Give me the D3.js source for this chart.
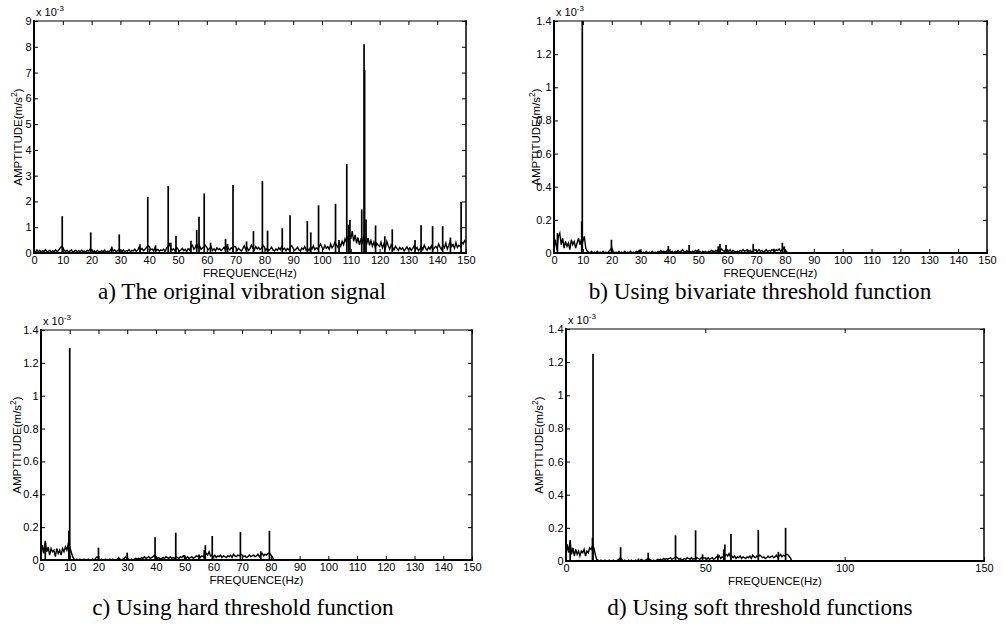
<!DOCTYPE html>
<html>
<head>
<meta charset="utf-8">
<script src="https://cdnjs.cloudflare.com/ajax/libs/d3/7.8.5/d3.min.js"></script>
<style>
  body { margin: 0; background: #fff; }
  svg text { fill: #000; }
  .tick text { font-family: "Liberation Sans", Arial, sans-serif; font-size: 11px; }
  .axis-label { font-family: "Liberation Sans", Arial, sans-serif; font-size: 11.5px; }
  .caption { font-family: "Liberation Serif", "Times New Roman", serif; font-size: 23.2px; }
</style>
</head>
<body>
<div id="wrapper"></div>
<script>
// tick values
const freqTicksFine = [0, 10, 20, 30, 40, 50, 60, 70, 80, 90, 100, 110, 120, 130, 140, 150];
const freqTicksCoarse = [0, 50, 100, 150];
const ampTicksA = [0, 1, 2, 3, 4, 5, 6, 7, 8, 9];
const ampTicksSmall = [0, 0.2, 0.4, 0.6, 0.8, 1, 1.2, 1.4];

const captions = [
  "a) The original vibration signal",
  "b) Using bivariate threshold function",
  "c) Using hard threshold function",
  "d) Using soft threshold functions"
];

// spectrum floor, one sample every 0.5 Hz (x 10^-3 m/s^2)
const noiseStep = 0.5;

const noiseA = [
  0.08,0.03,0.12,0.05,0.10,0.02,0.09,0.06,0.13,0.04,0.07,0.11,0.03,0.09,0.05,0.12,0.06,0.10,0.18,0.25,
  0.22,0.10,0.06,0.11,0.04,0.08,0.12,0.03,0.07,0.10,0.05,0.09,0.04,0.11,0.06,0.08,0.03,0.10,0.07,0.15,
  0.12,0.05,0.08,0.03,0.10,0.06,0.04,0.09,0.05,0.11,0.03,0.07,0.05,0.10,0.18,0.08,0.12,0.05,0.09,0.14,
  0.10,0.06,0.12,0.04,0.09,0.07,0.13,0.05,0.10,0.08,0.15,0.06,0.11,0.22,0.12,0.18,0.09,0.14,0.20,0.28,
  0.25,0.12,0.16,0.08,0.20,0.10,0.14,0.07,0.12,0.09,0.15,0.06,0.18,0.25,0.35,0.20,0.12,0.16,0.08,0.22,
  0.15,0.07,0.12,0.18,0.09,0.14,0.06,0.17,0.11,0.25,0.30,0.15,0.22,0.35,0.20,0.28,0.14,0.19,0.24,0.30,
  0.22,0.12,0.18,0.25,0.10,0.16,0.08,0.20,0.13,0.17,0.09,0.15,0.22,0.11,0.28,0.18,0.12,0.20,0.15,0.26,
  0.24,0.10,0.18,0.13,0.08,0.16,0.28,0.14,0.21,0.10,0.17,0.30,0.19,0.12,0.25,0.16,0.22,0.13,0.20,0.30,
  0.22,0.11,0.18,0.09,0.15,0.22,0.12,0.08,0.16,0.10,0.20,0.13,0.25,0.14,0.18,0.09,0.17,0.12,0.22,0.28,
  0.18,0.10,0.15,0.22,0.12,0.08,0.19,0.14,0.25,0.11,0.17,0.09,0.22,0.15,0.28,0.13,0.20,0.16,0.25,0.35,
  0.22,0.15,0.30,0.18,0.25,0.14,0.35,0.20,0.28,0.42,0.30,0.22,0.38,0.26,0.45,0.32,0.55,0.40,0.62,0.75,
  0.55,0.85,0.45,0.70,0.38,0.60,0.32,0.52,0.40,0.65,0.48,0.35,0.58,0.30,0.48,0.26,0.42,0.22,0.38,0.30,
  0.25,0.42,0.20,0.35,0.18,0.45,0.28,0.15,0.32,0.22,0.12,0.26,0.18,0.10,0.22,0.14,0.20,0.08,0.16,0.24,
  0.12,0.20,0.10,0.18,0.28,0.14,0.22,0.09,0.16,0.25,0.13,0.30,0.18,0.11,0.22,0.15,0.28,0.12,0.20,0.26,
  0.18,0.35,0.22,0.14,0.30,0.20,0.38,0.16,0.28,0.45,0.25,0.32,0.18,0.40,0.22,0.30,0.26,0.42,0.35,0.48,
  0.40
];

const noiseB = [
  0.03,0.08,0.02,0.10,0.12,0.05,0.09,0.03,0.07,0.04,0.06,0.02,0.08,0.05,0.07,0.03,0.06,0.09,0.05,0.08,
  0.07,0.10,0.03,0.01,0.005,0,0.01,0,0.005,0,0.01,0,0.005,0,0.01,0,0.005,0,0.01,0.02,
  0.03,0.01,0,0.005,0,0.01,0,0.005,0,0.01,0,0.005,0,0.01,0,0.005,0,0.01,0.005,0.015,
  0.01,0,0.005,0,0.01,0,0.005,0,0.01,0,0.005,0,0.01,0.005,0.015,0.005,0.01,0.005,0.01,0.02,
  0.015,0.005,0.01,0,0.01,0.005,0.015,0.005,0.01,0.02,0.01,0.005,0.015,0.005,0.01,0.005,0.01,0.005,0.015,0.01,
  0.005,0.01,0,0.01,0.005,0.01,0,0.01,0.005,0.015,0.01,0.005,0.015,0.01,0.02,0.01,0.025,0.015,0.01,0.02,
  0.015,0.01,0.02,0.005,0.015,0.01,0.005,0.01,0.005,0.015,0.01,0.02,0.01,0.015,0.02,0.01,0.015,0.005,0.01,0.02,
  0.015,0.01,0.02,0.01,0.015,0.005,0.01,0.02,0.01,0.015,0.01,0.02,0.015,0.01,0.02,0.015,0.025,0.01,0.02,0.03,
  0.02,0.01,0
];

const noiseC = [
  0.02,0.09,0.04,0.11,0.05,0.08,0.03,0.07,0.05,0.06,0.02,0.07,0.04,0.06,0.03,0.07,0.05,0.08,0.06,0.10,
  0.08,0.05,0.02,0.005,0,0.005,0,0.005,0,0,0.005,0,0,0.005,0,0,0.005,0,0.01,0.02,
  0.01,0,0.005,0,0,0.005,0,0,0.005,0,0.005,0,0,0.005,0.01,0.005,0,0.005,0.01,0.02,
  0.01,0.005,0,0.005,0,0.005,0.01,0.005,0.01,0.005,0.015,0.01,0.02,0.01,0.015,0.02,0.01,0.015,0.02,0.03,
  0.02,0.01,0.015,0.005,0.01,0.015,0.01,0.02,0.015,0.01,0.02,0.01,0.015,0.01,0.02,0.015,0.01,0.02,0.015,0.025,
  0.015,0.01,0.02,0.01,0.015,0.02,0.01,0.015,0.025,0.02,0.03,0.015,0.025,0.02,0.03,0.04,0.03,0.05,0.025,0.03,
  0.02,0.03,0.015,0.025,0.02,0.03,0.015,0.025,0.02,0.015,0.025,0.02,0.03,0.015,0.035,0.025,0.02,0.03,0.025,0.035,
  0.03,0.02,0.025,0.015,0.02,0.03,0.02,0.025,0.03,0.02,0.025,0.035,0.02,0.03,0.04,0.025,0.035,0.03,0.04,0.045,
  0.03,0.02,0
];

const noiseD = [
  0.03,0.10,0.05,0.12,0.04,0.08,0.03,0.07,0.04,0.06,0.03,0.06,0.05,0.07,0.03,0.06,0.05,0.08,0.07,0.09,
  0.08,0.04,0.01,0.005,0,0.005,0,0,0.005,0,0,0.005,0,0,0.005,0,0,0.005,0.01,0.02,
  0.01,0,0.005,0,0,0.005,0,0.005,0,0,0.005,0,0.005,0,0.01,0.005,0,0.005,0.01,0.015,
  0.01,0.005,0,0.005,0,0.005,0.01,0.005,0.01,0.005,0.015,0.01,0.015,0.01,0.015,0.02,0.01,0.015,0.02,0.025,
  0.02,0.01,0.015,0.005,0.01,0.015,0.01,0.02,0.015,0.01,0.02,0.01,0.015,0.01,0.02,0.015,0.01,0.02,0.015,0.02,
  0.015,0.01,0.02,0.01,0.015,0.02,0.01,0.015,0.025,0.02,0.03,0.015,0.025,0.02,0.035,0.04,0.03,0.045,0.025,0.03,
  0.02,0.03,0.015,0.025,0.02,0.03,0.015,0.025,0.02,0.015,0.025,0.02,0.03,0.015,0.035,0.025,0.02,0.03,0.025,0.035,
  0.03,0.02,0.025,0.015,0.02,0.03,0.02,0.025,0.03,0.02,0.025,0.035,0.02,0.03,0.04,0.025,0.035,0.03,0.04,0.04,
  0.03,0.02,0
];

// spectral lines [frequency Hz, amplitude x 10^-3]
const peaksA = [
  [9.8,1.43],[19.7,0.80],[27.0,0.25],[29.6,0.72],[36.8,0.34],[39.5,2.18],[42.2,0.30],
  [46.6,2.60],[47.5,0.40],[49.3,0.66],[54.5,0.48],[56.5,0.89],[57.3,1.41],[59.1,2.31],
  [61.3,0.40],[66.5,0.55],[67.2,0.35],[69.1,2.64],[73.8,0.45],[76.2,0.85],[79.3,2.80],
  [81.1,0.87],[86.2,0.96],[88.9,1.46],[94.9,1.24],[96.1,0.80],[98.8,1.85],[104.7,1.91],
  [105.9,0.50],[108.6,3.45],[109.2,1.10],[109.7,1.28],[113.8,1.69],[114.6,8.10],[114.8,7.10],
  [115.3,1.30],[118.6,1.07],[121.8,0.65],[124.4,0.92],[132.3,0.50],[134.4,1.08],[138.4,1.04],
  [141.9,1.04],[144.6,0.60],[148.3,1.99]
];
const peaksB = [
  [1.2,0.12],[9.6,0.19],[9.8,1.40],[19.9,0.08],[29.8,0.02],[39.6,0.042],[46.8,0.048],
  [49.8,0.02],[55.2,0.015],[56.9,0.04],[57.5,0.055],[59.6,0.048],[67.0,0.02],[69.0,0.055],
  [76.2,0.025],[79.1,0.062],[79.8,0.04]
];
const peaksC = [
  [1.5,0.117],[9.7,0.18],[10.0,1.29],[20.0,0.075],[27.0,0.02],[30.0,0.045],[39.7,0.138],
  [46.9,0.166],[50.0,0.03],[55.0,0.03],[56.8,0.06],[57.2,0.09],[59.6,0.146],[69.4,0.17],
  [76.5,0.053],[79.5,0.178]
];
const peaksD = [
  [1.5,0.127],[9.5,0.14],[9.7,1.25],[19.6,0.083],[26.0,0.015],[29.5,0.05],[39.3,0.155],
  [46.5,0.185],[49.0,0.04],[54.5,0.04],[56.6,0.07],[57.0,0.10],[59.2,0.163],[69.0,0.187],
  [76.2,0.055],[78.8,0.20]
];

const width = 1006;
const height = 624;

const svg = d3.select("#wrapper")
  .append("svg")
    .attr("width", width)
    .attr("height", height)

// plot frames of the four panels
const panels = [
  { box: {left: 34, right: 466, top: 21, bottom: 253}, yMax: 9, yTicks: ampTicksA, xTicks: freqTicksFine,
    noise: noiseA, peaks: peaksA, caption: captions[0], capX: 242, capY: 298.5, yLabX: 21.5 },
  { box: {left: 554, right: 987, top: 21, bottom: 253}, yMax: 1.4, yTicks: ampTicksSmall, xTicks: freqTicksFine,
    noise: noiseB, peaks: peaksB, caption: captions[1], capX: 760, capY: 298.5, yLabX: 539.5 },
  { box: {left: 41, right: 472, top: 330, bottom: 560}, yMax: 1.4, yTicks: ampTicksSmall, xTicks: freqTicksFine,
    noise: noiseC, peaks: peaksC, caption: captions[2], capX: 243, capY: 614.5, yLabX: 21 },
  { box: {left: 566, right: 984, top: 329, bottom: 561}, yMax: 1.4, yTicks: ampTicksSmall, xTicks: freqTicksCoarse,
    noise: noiseD, peaks: peaksD, caption: captions[3], capX: 760, capY: 614.5, yLabX: 543 },
]

panels.forEach((p, idx) => {
  const b = p.box
  const xScale = d3.scaleLinear().domain([0, 150]).range([b.left, b.right])
  const yScale = d3.scaleLinear().domain([0, p.yMax]).range([b.bottom, b.top])

  const g = svg.append("g")

  g.append("clipPath").attr("id", "clip" + idx)
    .append("rect")
      .attr("x", b.left).attr("y", b.top)
      .attr("width", b.right - b.left).attr("height", b.bottom - b.top)

  const plot = g.append("g").attr("clip-path", `url(#clip${idx})`)

  // noise floor trace
  const lineGenerator = d3.line()
    .x((d, i) => xScale(i * noiseStep))
    .y(d => yScale(d))

  plot.append("path")
    .attr("d", lineGenerator(p.noise))
    .attr("fill", "none")
    .attr("stroke", "#000")
    .attr("stroke-width", 1.4)

  // spectral lines
  plot.selectAll(".peak")
    .data(p.peaks)
    .join("line")
      .attr("class", "peak")
      .attr("x1", d => xScale(d[0]))
      .attr("x2", d => xScale(d[0]))
      .attr("y1", yScale(0))
      .attr("y2", d => yScale(d[1]))
      .attr("stroke", "#000")
      .attr("stroke-width", 1.7)

  // axes, ticks pointing inward on all four sides
  const fmt = d3.format("")
  g.append("g")
    .attr("transform", `translate(0,${b.bottom})`)
    .call(d3.axisBottom(xScale).tickValues(p.xTicks).tickSize(-4).tickPadding(3.5).tickFormat(fmt))
    .call(a => a.select(".domain").remove())
  g.append("g")
    .attr("transform", `translate(0,${b.top})`)
    .call(d3.axisTop(xScale).tickValues(p.xTicks).tickSize(-4).tickFormat(""))
    .call(a => a.select(".domain").remove())
  g.append("g")
    .attr("transform", `translate(${b.left},0)`)
    .call(d3.axisLeft(yScale).tickValues(p.yTicks).tickSize(-4).tickPadding(2.5).tickFormat(fmt))
    .call(a => a.select(".domain").remove())
  g.append("g")
    .attr("transform", `translate(${b.right},0)`)
    .call(d3.axisRight(yScale).tickValues(p.yTicks).tickSize(-4).tickFormat(""))
    .call(a => a.select(".domain").remove())

  g.selectAll(".tick line").attr("stroke", "#000").attr("stroke-width", 1)

  // frame
  const frame = [
    [b.left, b.top, b.right, b.top, 1.2],
    [b.right, b.top, b.right, b.bottom, 1.5],
    [b.left, b.bottom, b.right, b.bottom, 2],
    [b.left, b.top, b.left, b.bottom, 2],
  ]
  g.selectAll(".frame")
    .data(frame)
    .join("line")
      .attr("class", "frame")
      .attr("x1", d => d[0]).attr("y1", d => d[1])
      .attr("x2", d => d[2]).attr("y2", d => d[3])
      .attr("stroke", "#000")
      .attr("stroke-width", d => d[4])
      .attr("stroke-linecap", "square")

  // exponent label
  const expo = g.append("text")
    .attr("class", "axis-label")
    .attr("x", b.left + 2)
    .attr("y", b.top - 5)
    .style("font-size", "11px")
  expo.append("tspan").text("x 10")
  expo.append("tspan").attr("dy", -5).style("font-size", "8px").text("-3")

  // axis titles
  g.append("text")
    .attr("class", "axis-label")
    .attr("x", (b.left + b.right) / 2)
    .attr("y", b.bottom + 24)
    .attr("text-anchor", "middle")
    .text("FREQUENCE(Hz)")

  const yLab = g.append("text")
    .attr("class", "axis-label")
    .attr("text-anchor", "middle")
    .attr("transform", `translate(${p.yLabX},${(b.top + b.bottom) / 2}) rotate(-90)`)
  yLab.append("tspan").text("AMPTITUDE(m/s")
  yLab.append("tspan").attr("dy", -5).style("font-size", "8.5px").text("2")
  yLab.append("tspan").attr("dy", 5).text(")")

  // caption
  g.append("text")
    .attr("class", "caption")
    .attr("x", p.capX)
    .attr("y", p.capY)
    .attr("text-anchor", "middle")
    .text(p.caption)
})
</script>
</body>
</html>
